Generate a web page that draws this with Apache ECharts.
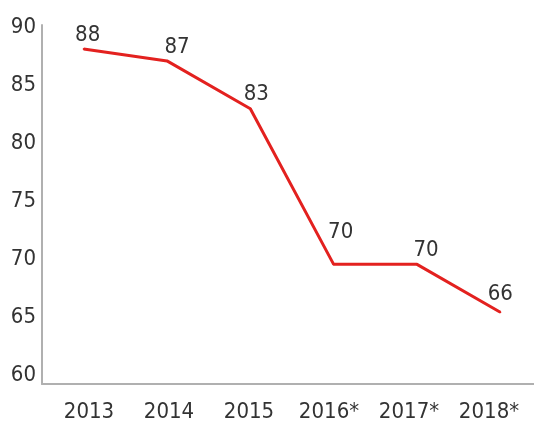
<!DOCTYPE html>
<html><head><meta charset="utf-8">
<script src="https://cdn.jsdelivr.net/npm/echarts@6/dist/echarts.min.js"></script>
<style>html,body{margin:0;padding:0;background:#fff}#c{width:534px;height:421px}</style>
</head><body><div id="c"></div>
<script>
var categories = ['2013','2014','2015','2016*','2017*','2018*'];
var values = [88, 87, 83, 70, 70, 66];
var yTicks = [60, 65, 70, 75, 80, 85, 90];
var labelOffsets = [[4,2],[10,2],[6,2],[7,-16],[9,2],[0,-2]];
var FONT = '"DejaVu Sans Condensed","Liberation Sans Narrow",sans-serif';
var yMin = yTicks[0], yMax = yTicks[yTicks.length-1];
var chart = echarts.init(document.getElementById('c'));
chart.setOption({
  animation:false,
  grid:[
    {left:42,top:25,bottom:37,width:500,outerBoundsMode:'none',containLabel:false},
    {left:49,top:27.5,bottom:46,width:480,outerBoundsMode:'none',containLabel:false}
  ],
  xAxis:[
    {gridIndex:0,type:'category',data:categories,boundaryGap:true,
      axisLine:{lineStyle:{color:'#b0b0b0',width:2}},axisTick:{show:false},
      axisLabel:{show:false}},
    {gridIndex:1,type:'category',data:categories,boundaryGap:true,
      axisLine:{show:false},axisTick:{show:false},
      axisLabel:{color:'#333',fontFamily:FONT,fontSize:22,margin:26}}
  ],
  yAxis:[
    {gridIndex:0,type:'value',min:yMin,max:yMax,interval:5,
      axisLine:{show:true,lineStyle:{color:'#b0b0b0',width:2}},axisTick:{show:false},
      splitLine:{show:false},axisLabel:{show:false}},
    {gridIndex:1,type:'value',min:yMin,max:yMax,interval:5,
      axisLine:{show:false},axisTick:{show:false},splitLine:{show:false},
      axisLabel:{color:'#333',fontFamily:FONT,fontSize:22,margin:13}}
  ],
  series:[{type:'line',xAxisIndex:0,yAxisIndex:0,showSymbol:true,symbol:'circle',symbolSize:2,
    itemStyle:{color:'#e3211f'},
    data:values.map(function(v,i){return {value:v,label:{show:true,offset:labelOffsets[i]}};}),
    lineStyle:{color:'#e3211f',width:3},
    label:{show:true,position:'top',color:'#333',fontFamily:FONT,fontSize:22,distance:4}}]
});
</script></body></html>
